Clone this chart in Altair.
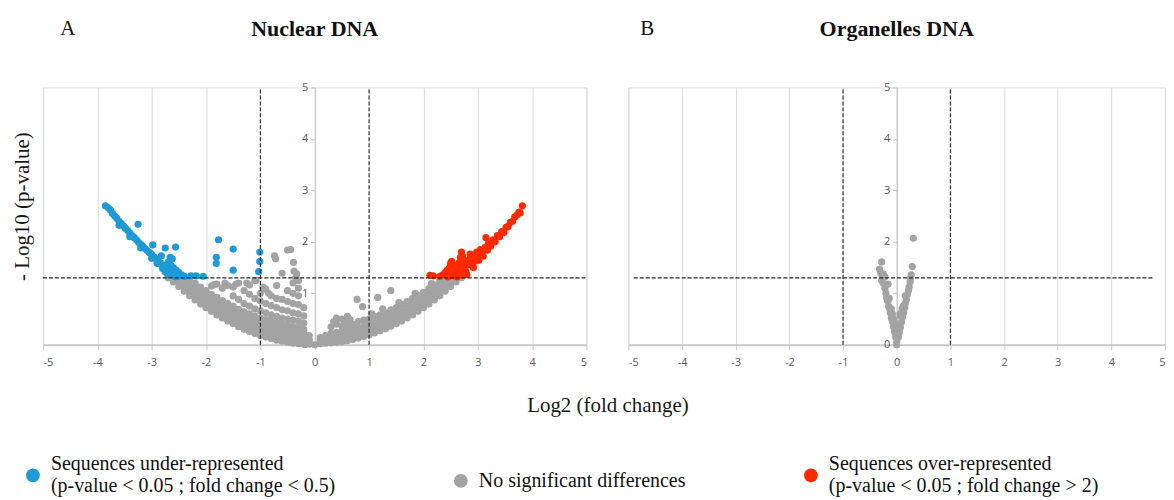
import altair as alt
import pandas as pd

SERIF = "Liberation Serif"
TICKF = "Open Sans"

X_TICKS = [-5, -4, -3, -2, -1, 0, 1, 2, 3, 4, 5]
Y_TICKS = [0, 1, 2, 3, 4, 5]
CATEGORIES = [
    "Sequences under-represented|(p-value < 0.05 ; fold change < 0.5)",
    "No significant differences",
    "Sequences over-represented|(p-value < 0.05 ; fold change > 2)",
]
COLORS = ["#1e9ad6", "#a3a3a3", "#ff2a00"]
FOLD_CUTS = [-1, 1]
P_CUT = 1.3

# ---- Panel A (Nuclear DNA): log2 fold change, -log10 p-value ----
a_under = [
    [-3.85, 2.70], [-3.80, 2.66], [-3.76, 2.62], [-3.72, 2.55], [-3.68, 2.50], [-3.64, 2.46],
    [-3.60, 2.40], [-3.56, 2.36], [-3.52, 2.31], [-3.48, 2.26], [-3.44, 2.22], [-3.40, 2.17],
    [-3.36, 2.12], [-3.32, 2.08], [-3.28, 2.04], [-3.24, 1.99], [-3.20, 1.95], [-3.16, 1.91],
    [-3.12, 1.87], [-3.08, 1.83], [-3.04, 1.79], [-3.00, 1.75], [-2.96, 1.71], [-2.92, 1.67],
    [-2.88, 1.63], [-2.84, 1.59], [-2.80, 1.55], [-2.76, 1.51], [-2.72, 1.47], [-2.68, 1.43],
    [-2.64, 1.39], [-2.60, 1.35], [-2.56, 1.32], [-3.60, 2.32], [-3.40, 2.10], [-3.20, 1.88],
    [-3.00, 1.68], [-2.90, 1.58], [-2.80, 1.48], [-2.75, 1.42], [-2.70, 1.36], [-2.55, 1.45],
    [-2.50, 1.40], [-2.45, 1.36], [-2.40, 1.33], [-2.60, 1.50], [-2.65, 1.55], [-2.70, 1.60],
    [-2.52, 1.33], [-2.62, 1.42], [-2.28, 1.34], [-2.18, 1.34], [-2.05, 1.33],
    [-3.25, 2.34], [-2.98, 1.94], [-2.75, 1.88], [-2.56, 1.90], [-2.82, 1.73], [-2.66, 1.70],
    [-2.62, 1.67], [-1.77, 2.04], [-1.81, 1.70], [-1.81, 1.58], [-1.50, 1.86], [-1.50, 1.45],
    [-1.01, 1.80], [-1.01, 1.62], [-1.03, 1.42],
]
a_over = [
    [2.12, 1.35], [2.18, 1.34], [2.30, 1.33], [2.36, 1.36], [2.40, 1.40], [2.44, 1.45],
    [2.48, 1.50], [2.50, 1.58], [2.52, 1.62], [2.56, 1.55], [2.58, 1.45], [2.60, 1.38],
    [2.62, 1.32], [2.64, 1.50], [2.66, 1.60], [2.68, 1.70], [2.70, 1.80], [2.72, 1.72],
    [2.74, 1.62], [2.76, 1.52], [2.78, 1.42], [2.80, 1.36], [2.82, 1.55], [2.84, 1.65],
    [2.86, 1.76], [2.88, 1.68], [2.90, 1.58], [2.92, 1.50], [2.94, 1.62], [2.96, 1.72],
    [2.98, 1.80], [3.00, 1.70], [3.02, 1.64], [3.05, 1.85], [3.08, 1.76], [3.10, 1.72],
    [3.15, 2.08], [3.14, 1.90], [3.18, 1.84], [3.20, 1.98], [3.24, 1.92], [3.28, 2.04],
    [3.32, 2.00], [3.36, 2.12], [3.40, 2.10], [3.44, 2.20], [3.48, 2.18], [3.52, 2.28],
    [3.56, 2.30], [3.60, 2.38], [3.64, 2.40], [3.68, 2.48], [3.72, 2.52], [3.76, 2.58],
    [3.78, 2.56], [3.82, 2.70], [2.45, 1.32], [2.52, 1.38], [2.56, 1.34], [2.66, 1.40],
    [2.70, 1.35], [2.74, 1.44], [2.60, 1.48], [2.55, 1.52],
]
a_ns = [
    [-2.70, 1.30], [-2.60, 1.22], [-2.60, 1.28], [-2.50, 1.13], [-2.50, 1.21], [-2.50, 1.28],
    [-2.40, 1.04], [-2.40, 1.12], [-2.40, 1.20], [-2.40, 1.27], [-2.30, 0.95], [-2.30, 1.03],
    [-2.30, 1.11], [-2.30, 1.19], [-2.30, 1.26], [-2.20, 0.87], [-2.20, 0.95], [-2.20, 1.03],
    [-2.20, 1.11], [-2.20, 1.20], [-2.10, 0.79], [-2.10, 0.87], [-2.10, 0.95], [-2.10, 1.03],
    [-2.10, 1.12], [-2.00, 0.72], [-2.00, 0.80], [-2.00, 0.88], [-2.00, 0.96], [-2.00, 1.05],
    [-1.90, 0.65], [-1.90, 0.73], [-1.90, 0.81], [-1.90, 0.89], [-1.90, 0.98], [-1.90, 1.14],
    [-1.80, 0.58], [-1.80, 0.66], [-1.80, 0.74], [-1.80, 0.82], [-1.80, 0.92], [-1.80, 1.18],
    [-1.70, 0.52], [-1.70, 0.60], [-1.70, 0.68], [-1.70, 0.76], [-1.70, 0.86], [-1.70, 1.10],
    [-1.60, 0.46], [-1.60, 0.54], [-1.60, 0.62], [-1.60, 0.70], [-1.60, 0.80], [-1.60, 1.15],
    [-1.50, 0.41], [-1.50, 0.49], [-1.50, 0.57], [-1.50, 0.65], [-1.50, 0.75], [-1.50, 0.95],
    [-1.50, 1.12], [-1.40, 0.35], [-1.40, 0.43], [-1.40, 0.51], [-1.40, 0.59], [-1.40, 0.69],
    [-1.40, 0.88], [-1.40, 1.20], [-1.30, 0.30], [-1.30, 0.38], [-1.30, 0.46], [-1.30, 0.54],
    [-1.30, 0.64], [-1.30, 0.80], [-1.30, 1.05], [-1.20, 0.26], [-1.20, 0.34], [-1.20, 0.42],
    [-1.20, 0.50], [-1.20, 0.60], [-1.20, 0.75], [-1.20, 0.98], [-1.20, 1.16], [-1.10, 0.22],
    [-1.10, 0.30], [-1.10, 0.38], [-1.10, 0.46], [-1.10, 0.56], [-1.10, 0.70], [-1.10, 0.90],
    [-1.10, 1.25], [-1.00, 0.18], [-1.00, 0.26], [-1.00, 0.34], [-1.00, 0.42], [-1.00, 0.52],
    [-1.00, 0.66], [-1.00, 0.85], [-1.00, 1.00], [-0.90, 0.15], [-0.90, 0.23], [-0.90, 0.31],
    [-0.90, 0.39], [-0.90, 0.49], [-0.90, 0.62], [-0.90, 0.80], [-0.90, 1.08], [-0.80, 0.12],
    [-0.80, 0.20], [-0.80, 0.28], [-0.80, 0.36], [-0.80, 0.46], [-0.80, 0.58], [-0.80, 0.76],
    [-0.80, 0.95], [-0.70, 0.09], [-0.70, 0.17], [-0.70, 0.25], [-0.70, 0.33], [-0.70, 0.43],
    [-0.70, 0.55], [-0.70, 0.72], [-0.70, 0.90], [-0.70, 1.15], [-0.60, 0.07], [-0.60, 0.14],
    [-0.60, 0.22], [-0.60, 0.30], [-0.60, 0.40], [-0.60, 0.52], [-0.60, 0.68], [-0.60, 0.88],
    [-0.60, 1.39], [-0.50, 0.05], [-0.50, 0.12], [-0.50, 0.20], [-0.50, 0.28], [-0.50, 0.38],
    [-0.50, 0.50], [-0.50, 0.66], [-0.50, 0.84], [-0.50, 1.05], [-0.40, 0.03], [-0.40, 0.10],
    [-0.40, 0.18], [-0.40, 0.26], [-0.40, 0.36], [-0.40, 0.48], [-0.40, 0.62], [-0.40, 0.80],
    [-0.40, 1.00], [-0.40, 1.20], [-0.30, 0.02], [-0.30, 0.08], [-0.30, 0.15], [-0.30, 0.24],
    [-0.30, 0.34], [-0.30, 0.46], [-0.30, 0.60], [-0.30, 0.78], [-0.30, 0.95], [-0.30, 1.10],
    [-0.30, 1.25], [-0.20, 0.01], [-0.20, 0.06], [-0.20, 0.12], [-0.20, 0.20], [-0.20, 0.30],
    [-0.20, 0.42], [-0.20, 0.56], [-0.20, 0.72], [-0.10, 0.01], [-0.10, 0.05], [-0.10, 0.10],
    [-0.10, 0.18], [0.00, 0.00],
    [-0.74, 1.73], [-0.72, 1.67], [-0.50, 1.84], [-0.44, 1.85], [-0.39, 1.60], [-0.38, 1.43],
    [-0.33, 1.38], [-0.35, 1.30], [-0.30, 1.25], [-1.08, 1.25], [-1.25, 1.20], [-1.45, 1.18],
    [-1.65, 1.20], [-1.85, 1.17], [-0.95, 1.12], [-0.85, 1.00],
    [-2.45, 1.16], [-2.35, 1.07], [-2.25, 0.99], [-2.15, 0.91], [-2.05, 0.84], [-1.95, 0.77],
    [-1.85, 0.70], [-1.75, 0.63], [-1.65, 0.57], [-1.55, 0.51], [-1.45, 0.46], [-1.35, 0.41],
    [-1.25, 0.36], [-1.15, 0.32], [-1.05, 0.28], [-0.95, 0.24], [-0.85, 0.20], [-0.75, 0.17],
    [-0.65, 0.14], [-0.55, 0.11], [-0.45, 0.08], [-0.35, 0.06], [-0.25, 0.04], [-0.15, 0.03],
    [0.10, 0.02], [0.10, 0.08], [0.10, 0.14], [0.20, 0.03], [0.20, 0.10], [0.20, 0.18],
    [0.30, 0.04], [0.30, 0.12], [0.30, 0.22], [0.30, 0.35], [0.40, 0.05], [0.40, 0.14],
    [0.40, 0.24], [0.40, 0.40], [0.40, 0.52], [0.50, 0.06], [0.50, 0.16], [0.50, 0.26],
    [0.50, 0.36], [0.50, 0.50], [0.60, 0.08], [0.60, 0.18], [0.60, 0.28], [0.60, 0.38],
    [0.60, 0.55], [0.70, 0.10], [0.70, 0.20], [0.70, 0.30], [0.70, 0.40], [0.80, 0.13],
    [0.80, 0.23], [0.80, 0.33], [0.80, 0.45], [0.78, 0.88], [0.90, 0.16], [0.90, 0.26],
    [0.90, 0.36], [0.90, 0.48], [0.88, 0.74], [1.00, 0.19], [1.00, 0.29], [1.00, 0.39],
    [1.00, 0.50], [1.10, 0.23], [1.10, 0.33], [1.10, 0.43], [1.10, 0.55], [1.20, 0.27],
    [1.20, 0.37], [1.20, 0.47], [1.20, 0.58], [1.16, 0.92], [1.30, 0.31], [1.30, 0.41],
    [1.30, 0.51], [1.30, 0.62], [1.40, 0.36], [1.40, 0.46], [1.40, 0.56], [1.40, 0.68],
    [1.40, 1.05], [1.50, 0.41], [1.50, 0.51], [1.50, 0.61], [1.50, 0.72], [1.60, 0.46],
    [1.60, 0.56], [1.60, 0.66], [1.60, 0.78], [1.70, 0.52], [1.70, 0.62], [1.70, 0.72],
    [1.70, 0.84], [1.80, 0.58], [1.80, 0.68], [1.80, 0.78], [1.80, 0.90], [1.90, 0.65],
    [1.90, 0.75], [1.90, 0.85], [1.90, 0.96], [2.00, 0.72], [2.00, 0.82], [2.00, 0.92],
    [2.00, 1.02], [2.10, 0.79], [2.10, 0.89], [2.10, 0.99], [2.10, 1.09], [2.20, 0.87],
    [2.20, 0.97], [2.20, 1.07], [2.20, 1.16], [2.30, 0.95], [2.30, 1.05], [2.30, 1.15],
    [2.30, 1.24], [2.40, 1.04], [2.40, 1.13], [2.40, 1.22], [2.40, 1.29], [2.50, 1.13],
    [2.50, 1.21], [2.50, 1.28], [2.60, 1.22], [2.60, 1.28], [2.70, 1.30],
    [0.15, 0.05], [0.25, 0.07], [0.35, 0.09], [0.45, 0.10], [0.55, 0.12], [0.65, 0.15],
    [0.75, 0.18], [0.85, 0.21], [0.95, 0.24], [1.05, 0.27], [1.15, 0.31], [1.25, 0.35],
    [1.35, 0.39], [1.45, 0.44], [1.55, 0.49], [1.65, 0.55], [1.75, 0.61], [1.85, 0.68],
    [1.95, 0.75], [2.05, 0.82], [2.15, 0.90], [2.25, 0.98], [2.35, 1.07], [2.45, 1.16],
    [2.55, 1.25], [0.35, 0.45], [0.55, 0.44], [0.65, 0.49], [1.05, 0.60], [1.25, 0.70],
    [1.55, 0.82], [1.85, 1.00], [2.15, 1.19],
]

# ---- Panel B (Organelles DNA) ----
b_ns = [
    [0.31, 2.07], [0.29, 1.52], [-0.28, 1.61], [-0.32, 1.47], [-0.30, 1.40], [-0.27, 1.35],
    [-0.25, 1.38], [-0.22, 1.32], [-0.28, 1.25], [-0.25, 1.20], [-0.16, 1.18], [-0.22, 1.10],
    [-0.20, 1.00], [-0.19, 0.92], [-0.17, 0.85], [-0.15, 0.75], [-0.13, 0.70], [-0.12, 0.62],
    [-0.10, 0.52], [-0.08, 0.45], [-0.06, 0.35], [-0.04, 0.25], [-0.02, 0.15], [0.00, 0.05],
    [0.00, 0.00], [0.27, 1.36], [0.26, 1.30], [0.25, 1.22], [0.23, 1.12], [0.22, 1.06],
    [0.20, 0.98], [0.18, 0.88], [0.16, 0.80], [0.15, 0.72], [0.13, 0.62], [0.11, 0.54],
    [0.09, 0.44], [0.07, 0.34], [0.05, 0.24], [0.03, 0.14], [-0.10, 0.70], [-0.05, 0.50],
    [0.00, 0.30], [0.04, 0.40], [0.08, 0.55], [0.10, 0.70], [0.02, 0.20], [-0.02, 0.35],
    [0.06, 0.60], [-0.08, 0.60], [0.12, 0.75], [-0.14, 0.90], [0.16, 0.95],
]


def to_df(pairs, cat):
    d = pd.DataFrame(pairs, columns=["x", "y"])
    d["cls"] = cat
    return d


dfA = pd.concat([to_df(a_ns, CATEGORIES[1]), to_df(a_under, CATEGORIES[0]),
                 to_df(a_over, CATEGORIES[2])], ignore_index=True)
dfB = to_df(b_ns, CATEGORIES[1])

LEGEND = alt.Legend(
    title=None, orient="none", legendX=-20, legendY=379, direction="horizontal",
    columns=3, columnPadding=115, symbolType="circle", symbolSize=190,
    symbolStrokeWidth=0, symbolOpacity=1, labelFont=SERIF, labelFontSize=20,
    labelColor="#111111", labelLimit=700, labelOffset=8, padding=0,
    labelExpr="split(datum.label, '|')",
)

H = 258


def panel(df, w, letter, letter_x, name, hline, show_titles):
    xs = alt.Scale(domain=[-5, 5], nice=False, zero=False)
    ys = alt.Scale(domain=[0, 5], nice=False)
    xax = dict(values=X_TICKS, labelExpr="toString(datum.value)", grid=True,
               gridColor="#d9d9d9", gridWidth=1,
               domainColor="#c9c9c9", domainWidth=2, tickColor="#c9c9c9", tickSize=5,
               labelFont=TICKF, labelFontSize=11, labelColor="#595959", labelPadding=7)
    yax = dict(values=Y_TICKS, format="d", grid=False, offset=-w / 2, domainColor="#c0c0c0",
               tickColor="#c0c0c0", tickSize=4, labelFont=TICKF, labelFontSize=11,
               labelColor="#595959", labelPadding=3)
    if show_titles:
        xax.update(title="Log2 (fold change)", titleFont=SERIF, titleFontSize=21,
                   titleFontWeight="normal", titleColor="#1a1a1a", titleX=566, titleY=61,
                   titleBaseline="middle", titleAlign="center")
        yax.update(title="- Log10 (p-value)", titleFont=SERIF, titleFontSize=21,
                   titleFontWeight="normal", titleColor="#1a1a1a", titleX=-282.5,
                   titleY=119, titleAngle=270, titleBaseline="bottom", titleAlign="center")
    else:
        xax.update(title=None)
        yax.update(title=None)
    X = alt.X("x:Q", scale=xs, axis=alt.Axis(**xax))
    Y = alt.Y("y:Q", scale=ys, axis=alt.Axis(**yax))

    pts = alt.Chart(df).mark_circle(size=52, opacity=1).encode(
        x=X, y=Y,
        color=alt.Color("cls:N", scale=alt.Scale(domain=CATEGORIES, range=COLORS), legend=LEGEND),
    )
    vr = alt.Chart(pd.DataFrame({"x": FOLD_CUTS, "y": [0, 0], "y2": [5, 5]})).mark_rule(
        color="#262626", strokeDash=[4, 2], strokeWidth=1.1).encode(x=X, y=Y, y2="y2:Q")
    hr = alt.Chart(pd.DataFrame({"x": [hline[0]], "x2": [hline[1]], "y": [P_CUT]})).mark_rule(
        color="#262626", strokeDash=[4, 2], strokeWidth=1.1).encode(x=X, x2="x2:Q", y=Y)
    let = alt.Chart(pd.DataFrame({"t": [letter]})).mark_text(
        font=SERIF, fontSize=21, color="#111111", align="center", baseline="middle").encode(
        text="t:N", x=alt.value(letter_x), y=alt.value(-59))
    ttl = alt.Chart(pd.DataFrame({"t": [name]})).mark_text(
        font=SERIF, fontSize=22, fontWeight="bold", color="#111111", align="center",
        baseline="middle").encode(text="t:N", x=alt.value(w / 2), y=alt.value(-59))
    return alt.layer(pts, vr, hr, let, ttl).properties(width=w, height=H)


pA = panel(dfA, 545, "A", 25, "Nuclear DNA", [-5, 5], True)
pB = panel(dfB, 538, "B", 19, "Organelles DNA", [-4.9, 4.8], False)

chart = alt.hconcat(pA, pB, spacing=42, bounds="flush").properties(
    padding={"left": 3, "top": 8, "right": 0, "bottom": 0}
).configure_view(stroke=None).configure(
    style={"guide-label": {"dy": {"expr": "isString(datum.value) && indexof(datum.value, '|') >= 0 ? -11 : 0"}}}
)

chart.save("out.html", embed_options={"renderer": "svg", "actions": False})
